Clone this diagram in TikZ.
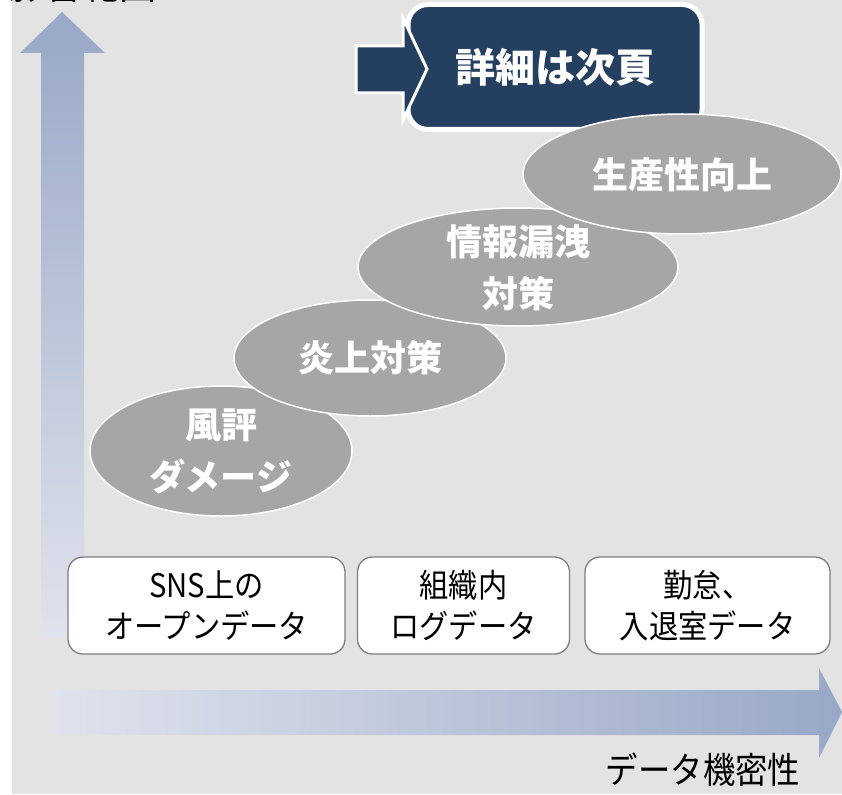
\documentclass[tikz,border=0pt]{standalone}
\usepackage{fontspec}
\usetikzlibrary{shapes.geometric}
\newfontfamily\jp{Noto Sans CJK JP}
\newfontfamily\jpn[FakeStretch=0.9]{Noto Sans CJK JP}
\definecolor{bg}{HTML}{E3E3E3}
\definecolor{ellfill}{HTML}{A6A6A6}
\definecolor{navy}{HTML}{243F60}
\definecolor{arrdark}{HTML}{98A8C7}
\definecolor{arrlight}{HTML}{E0E3EC}
\definecolor{boxline}{HTML}{7F7F7F}
\begin{document}
\begin{tikzpicture}[x=1pt,y=-1pt,
  stageshape/.style={fill=ellfill, draw=white, line width=1.5pt},
  stagetext/.style={inner sep=0pt, text=white, align=center, font=\jp\bfseries\fontsize{36}{52}\selectfont},
  databox/.style={rectangle, rounded corners=15pt, fill=white, draw=boxline, line width=1.3pt, inner sep=0pt, align=center, minimum height=97pt, font=\jpn\fontsize{32.5}{41}\selectfont},
  axislabel/.style={inner sep=0pt, font=\jpn\fontsize{36}{40}\selectfont}]
\useasboundingbox (0,0) rectangle (842,794);
\fill[bg] (12,0) rectangle (842,794);
\node[inner sep=0pt, anchor=base east, font=\jp\fontsize{37}{40}\selectfont] (ylab) at (157,0) {影響範囲};
% vertical axis arrow
\shade[top color=arrdark, bottom color=arrlight]
  (62,12) -- (105,53) -- (84,53) -- (84,637) -- (41,637) -- (41,53) -- (20,53) -- cycle;
% horizontal axis arrow
\shade[left color=arrlight, right color=arrdark]
  (52,690) -- (819,690) -- (819,668) -- (842,712) -- (819,758) -- (819,735) -- (52,735) -- cycle;
\node[axislabel] (xlab) at (703,770) {データ機密性};
% data boxes
\node[databox, minimum width=277pt] (d1) at (206.5,605.5) {SNS上の\\オープンデータ};
\node[databox, minimum width=212pt] (d2) at (463.5,605.5) {組織内\\ログデータ};
\node[databox, minimum width=245pt] (d3) at (707.5,605.5) {勤怠、\\入退室データ};
% detail box and arrow
\node[rectangle, rounded corners=20pt, fill=navy, draw=white, line width=5pt,
      minimum width=294pt, minimum height=125pt, inner sep=0pt, text=white,
      font=\jp\bfseries\fontsize{40}{48}\selectfont] (detail) at (555,67) {詳細は次頁};
\filldraw[fill=navy, draw=white, line width=3pt, line join=miter]
  (356,46) -- (403,46) -- (403,18) -- (427,69) -- (403,120) -- (403,93) -- (356,93) -- cycle;
% stages
\path[stageshape] (221,451) ellipse [x radius=131, y radius=65];
\node[stagetext] (e1) at (221,451) {風評\\ダメージ};
\path[stageshape] (370,358) ellipse [x radius=136, y radius=58];
\node[stagetext] (e2) at (370,358) {炎上対策};
\path[stageshape] (518,267) ellipse [x radius=160, y radius=59];
\node[stagetext] (e3) at (518,268) {情報漏洩\\対策};
\path[stageshape] (682,174) ellipse [x radius=159, y radius=60];
\node[stagetext] (e4) at (682,175) {生産性向上};
\end{tikzpicture}
\end{document}
